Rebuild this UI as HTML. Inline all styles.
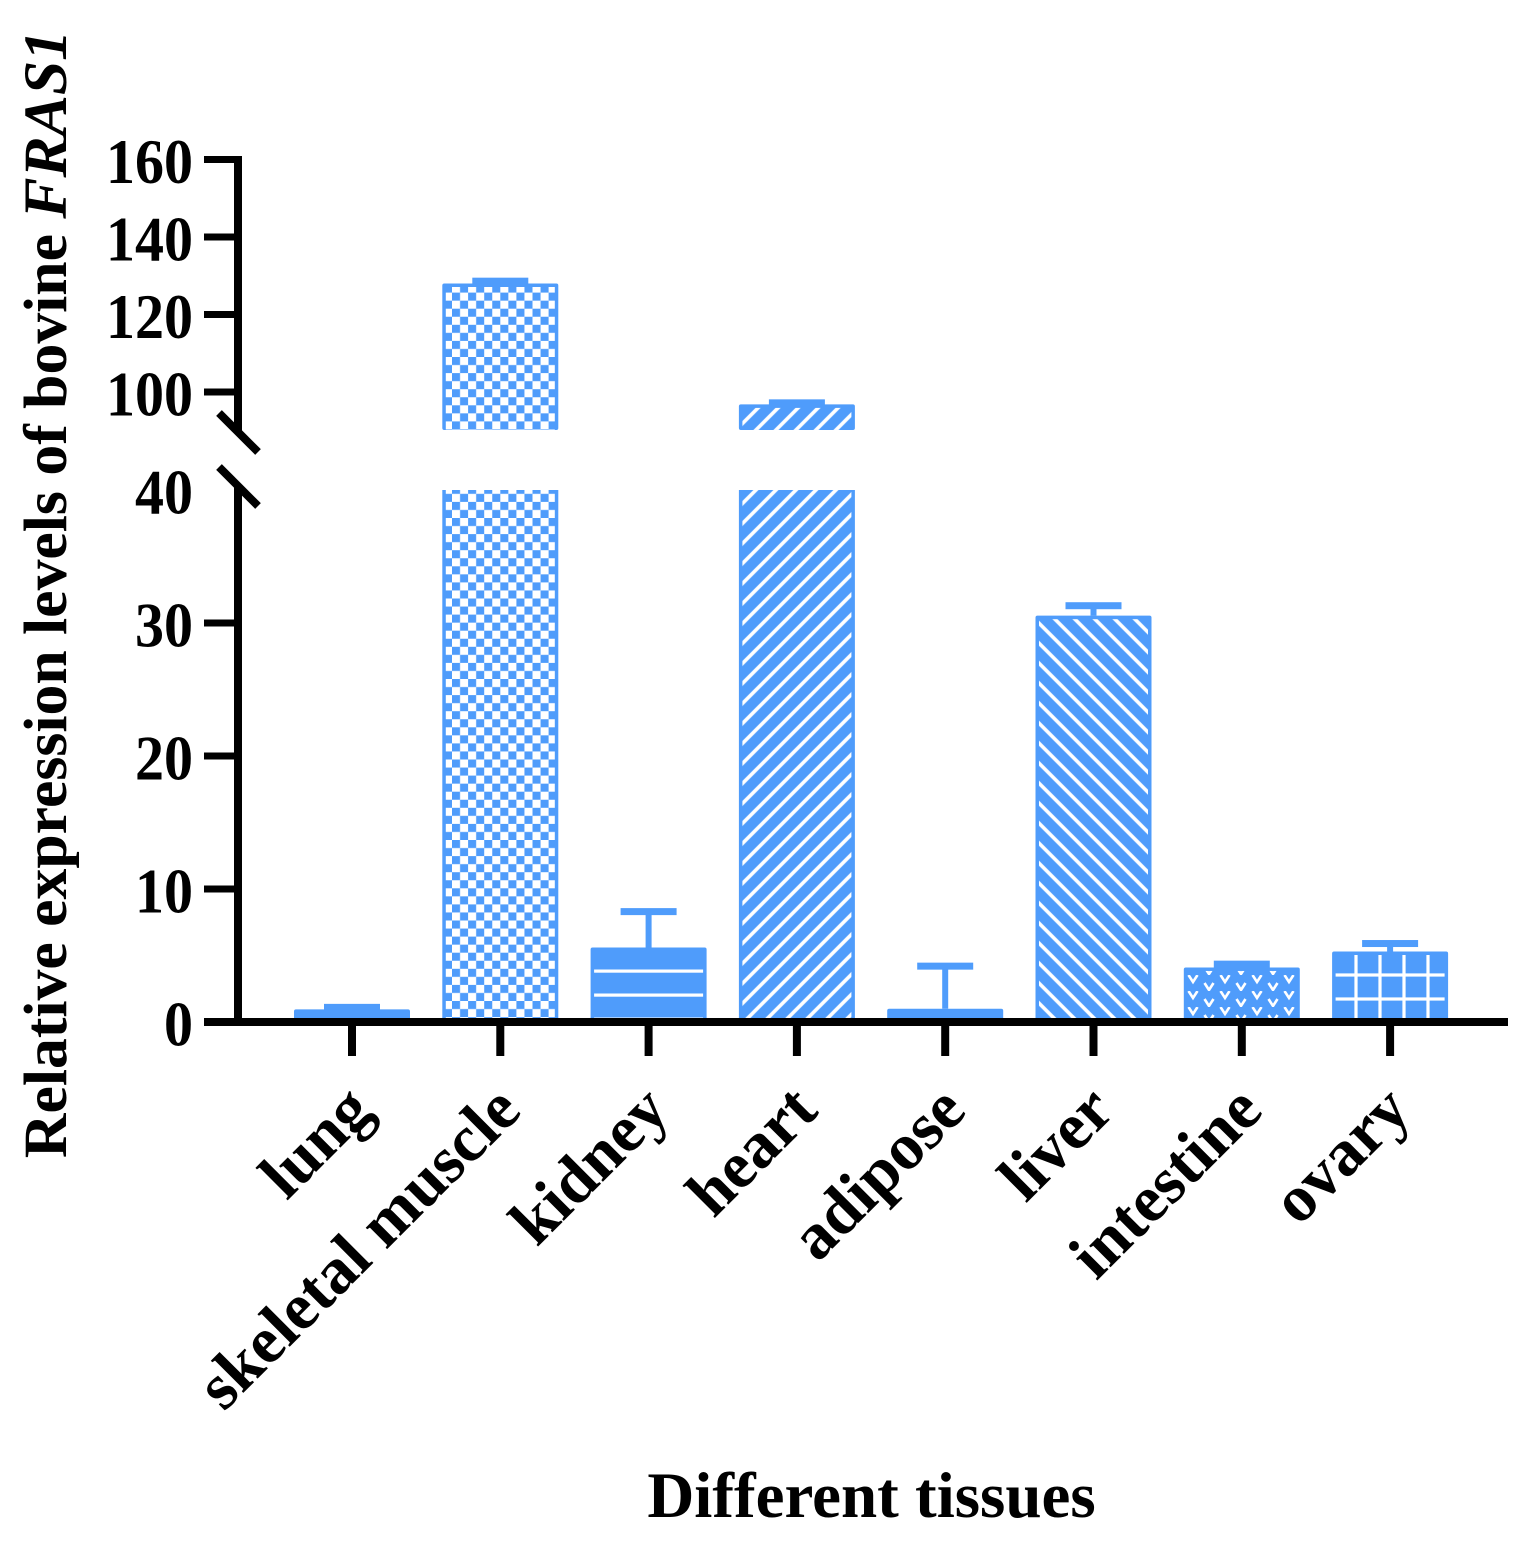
<!DOCTYPE html>
<html lang="en">
<head>
<meta charset="utf-8">
<title>Relative expression levels of bovine FRAS1</title>
<style>
html,body{margin:0;padding:0;background:#fff;}
svg{display:block;}
text{font-family:"Liberation Serif",serif;font-weight:bold;fill:#000;}
</style>
</head>
<body>
<svg id="chart" xmlns="http://www.w3.org/2000/svg" width="1539" height="1563" viewBox="0 0 1539 1563">
<defs>
<pattern id="p-solid" patternUnits="userSpaceOnUse" width="10" height="10"><rect width="10" height="10" fill="#4f9cfb"/></pattern>
<pattern id="p-check" patternUnits="userSpaceOnUse" width="16.1" height="16.1" x="452" y="292.6"><rect width="16.1" height="16.1" fill="#fff"/><rect x="0" y="0" width="8.05" height="8.05" fill="#4f9cfb"/><rect x="8.05" y="8.05" width="8.05" height="8.05" fill="#4f9cfb"/></pattern>
<pattern id="p-lines" patternUnits="userSpaceOnUse" width="24" height="24"><rect width="24" height="24" fill="#4f9cfb"/><rect y="9.5" width="24" height="3.2" fill="#fff"/></pattern>
<pattern id="p-up" patternUnits="userSpaceOnUse" width="14.14" height="14.14" patternTransform="rotate(-45)"><rect width="14.14" height="14.14" fill="#4f9cfb"/><rect y="2.54" width="14.14" height="3.6" fill="#fff"/></pattern>
<pattern id="p-dots" patternUnits="userSpaceOnUse" width="16" height="16" x="-4" y="6"><rect width="16" height="16" fill="#4f9cfb"/><circle cx="8" cy="8" r="2" fill="#fff"/></pattern>
<pattern id="p-down" patternUnits="userSpaceOnUse" width="14.14" height="14.14" patternTransform="rotate(45)"><rect width="14.14" height="14.14" fill="#4f9cfb"/><rect y="1.13" width="14.14" height="3.6" fill="#fff"/></pattern>
<pattern id="p-vees" patternUnits="userSpaceOnUse" width="32" height="16" x="1185" y="975"><rect width="32" height="16" fill="#4f9cfb"/><path d="M3.5 0 L8 7 L12.5 0 M19.5 8 L24 15 L28.5 8" stroke="#fff" stroke-width="2.6" fill="none"/></pattern>
<pattern id="p-grid" patternUnits="userSpaceOnUse" width="24" height="24"><rect width="24" height="24" fill="#4f9cfb"/><rect x="10.4" width="3.2" height="24" fill="#fff"/><rect y="13.4" width="24" height="3.2" fill="#fff"/></pattern>
</defs>
<g id="bars"></g>
<g id="axes"></g>
<g id="labels"></g>
<text transform="translate(66,30) rotate(-90)" text-anchor="end" font-size="61.7">Relative expression levels of bovine <tspan font-style="italic">FRAS1</tspan></text>
<text x="871.5" y="1517" text-anchor="middle" font-size="65">Different tissues</text>
</svg>
<script>
var categories = ["lung", "skeletal muscle", "kidney", "heart", "adipose", "liver", "intestine", "ovary"];
var meanValues = [0.95, 128, 5.6, 96.8, 1.0, 30.55, 4.1, 5.3];
var errorTops = [1.1, 128.6, 8.3, 97.2, 4.2, 31.3, 4.35, 5.9];
var fillNames = ["p-solid", "p-check", "p-lines", "p-up", "p-dots", "p-down", "p-vees", "p-grid"];
var lowerTicks = [0, 10, 20, 30, 40];
var upperTicks = [100, 120, 140, 160];

var NS = "http://www.w3.org/2000/svg";
var BLUE = "#4f9cfb";
var lowMax = 40, highMin = 90.2;

function yScale(v) {
  if (v <= lowMax) return 1022 - v * 13.3;
  return 392 - (v - 100) * 3.875;
}
function xScale(i) {
  return 352 + i * 148.3;
}
function mk(tag, parent, attrs) {
  var el = document.createElementNS(NS, tag);
  for (var k in attrs) el.setAttribute(k, attrs[k]);
  parent.appendChild(el);
  return el;
}
var barsG = document.getElementById("bars");
var axesG = document.getElementById("axes");
var labelsG = document.getElementById("labels");
var BW = 116, INSET = 3.5;

function segment(parent, x, top, bottom, fill, topBorder) {
  var outer = mk("rect", parent, {x: x - BW / 2, y: top, width: BW, height: bottom - top, fill: BLUE, rx: topBorder ? 2 : 0});
  
  
  var t = top + (topBorder ? INSET : 0);
  if (bottom > t) {
    var inner = mk("rect", parent, {x: x - BW / 2 + INSET, y: t, width: BW - 2 * INSET, height: bottom - t, fill: "url(#" + fill + ")"});
    
    
  }
}

categories.forEach(function (cat, i) {
  var g = mk("g", barsG, {});
  
  
  var x = xScale(i), v = meanValues[i], e = errorTops[i];
  var yv = yScale(v), ye = yScale(e);
  var stem = mk("rect", g, {x: x - 3, y: ye, width: 6, height: yv - ye, fill: BLUE});
  
  
  var cap = mk("rect", g, {x: x - 28, y: ye - 3.5, width: 56, height: 7, fill: BLUE});
  
  
  if (v > lowMax) {
    segment(g, x, yv, yScale(highMin), fillNames[i], true);
    segment(g, x, yScale(lowMax), yScale(0), fillNames[i], false);
  } else {
    segment(g, x, yv, yScale(0), fillNames[i], true);
  }
});

function line(parent, x1, y1, x2, y2, w, name) {
  var l = mk("line", parent, {x1: x1, y1: y1, x2: x2, y2: y2, stroke: "#000", "stroke-width": w});
  
  
  return l;
}
line(axesG, 238, yScale(160) - 3.5, 238, 433, 8, "y-axis-upper");
line(axesG, 238, 487, 238, 1026, 8, "y-axis-lower");
line(axesG, 219, 413, 258, 452, 8, "axis-break-upper");
line(axesG, 219, 467, 258, 506, 8, "axis-break-lower");
line(axesG, 204, yScale(0), 1508, yScale(0), 8, "x-axis");

lowerTicks.concat(upperTicks).forEach(function (t) {
  var y = yScale(t);
  if (t !== 0 && t !== lowMax) line(axesG, 204, y, 238, y, 7, "y-tick");
  var lab = mk("text", labelsG, {transform: "translate(193," + (y + 23.5) + ") scale(1,1.09)", "text-anchor": "end", "font-size": 58});
  
  
  lab.textContent = t;
});

categories.forEach(function (cat, i) {
  var x = xScale(i);
  line(axesG, x, yScale(0), x, 1056, 8, "x-tick");
  var lab = mk("text", labelsG, {transform: "translate(" + (x + 23) + ",1113) rotate(-45)", "text-anchor": "end", "font-size": 66});
  
  
  lab.textContent = cat;
});
</script>
</body>
</html>
